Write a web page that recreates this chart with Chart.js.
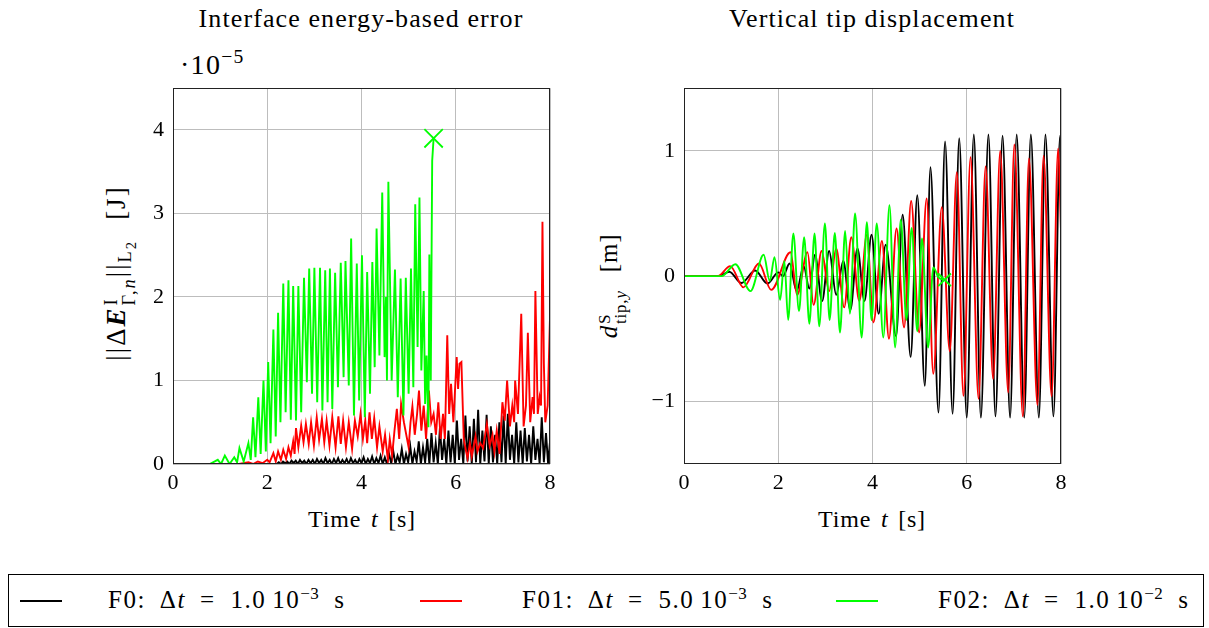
<!DOCTYPE html>
<html><head><meta charset="utf-8">
<script src="https://cdn.jsdelivr.net/npm/chart.js@4"></script>
<style>
body{margin:0;background:#fff;width:1209px;height:628px;overflow:hidden;position:relative;font-family:'Liberation Serif',serif;color:#000;}
.abs{position:absolute;white-space:nowrap;}
canvas{position:absolute;}
.ss{display:inline-flex;flex-direction:column;font-size:0.68em;line-height:0.95;vertical-align:0.42em;margin-left:1px;}
.sw{position:absolute;height:0;border-top:2px solid;}
.m{display:inline-block;}
.lg{font-size:25px;letter-spacing:1.5px;top:584px;}
.lg sup{font-size:0.68em;letter-spacing:0.5px;}
</style></head><body>
<div class="abs" style="left:361px;top:19px;transform:translate(-50%,-50%);font-size:26px;letter-spacing:1.1px">Interface energy-based error</div>
<div class="abs" style="left:872px;top:19px;transform:translate(-50%,-50%);font-size:26px;letter-spacing:1.1px">Vertical tip displacement</div>
<div class="abs" style="left:180px;top:47px;font-size:28px;letter-spacing:1.3px">·10<sup style="font-size:0.7em;position:relative;top:-0.05em">−5</sup></div>
<div class="abs" style="left:362px;top:519px;transform:translate(-50%,-50%);font-size:24px;letter-spacing:0.8px;word-spacing:3px">Time <i>t</i> [s]</div>
<div class="abs" style="left:872px;top:519px;transform:translate(-50%,-50%);font-size:24px;letter-spacing:0.8px;word-spacing:3px">Time <i>t</i> [s]</div>
<div class="abs" style="left:121px;top:273px;transform:translate(-50%,-50%) rotate(-90deg);font-size:27px;letter-spacing:2px">||Δ<b><i>E</i></b><span class="ss"><span>I</span><span>Γ,<i>n</i></span></span>||<sub style="font-size:0.68em">L<sub style="font-size:0.8em">2</sub></sub><span class="m" style="width:20px"></span>[J]</div>
<div class="abs" style="left:612px;top:286px;transform:translate(-50%,-50%) rotate(-90deg);font-size:25px;letter-spacing:0.8px"><i>d</i><span class="ss"><span>S</span><span>tip,<i>y</i></span></span><span class="m" style="width:18px"></span>[m]</div>

<div class="abs" style="left:8px;top:574px;width:1196px;height:53px;border:1px solid #000;box-sizing:border-box;"></div>
<div class="sw" style="left:20px;top:600px;width:42px;border-color:#000"></div>
<div class="abs lg" style="left:108px">F0:<span class="m" style="width:14px"></span>Δ<i>t</i><span class="m" style="width:14px"></span>=<span class="m" style="width:15px"></span>1.0<span class="m" style="width:6px"></span>10<sup>−3</sup><span class="m" style="width:15px"></span>s</div>
<div class="sw" style="left:420px;top:600px;width:42px;border-color:#ff0000"></div>
<div class="abs lg" style="left:522px">F01:<span class="m" style="width:14px"></span>Δ<i>t</i><span class="m" style="width:14px"></span>=<span class="m" style="width:15px"></span>5.0<span class="m" style="width:6px"></span>10<sup>−3</sup><span class="m" style="width:15px"></span>s</div>
<div class="sw" style="left:836px;top:600px;width:42px;border-color:#00ff00"></div>
<div class="abs lg" style="left:938px">F02:<span class="m" style="width:14px"></span>Δ<i>t</i><span class="m" style="width:14px"></span>=<span class="m" style="width:15px"></span>1.0<span class="m" style="width:6px"></span>10<sup>−2</sup><span class="m" style="width:15px"></span>s</div>

<canvas id="c1" width="480" height="454" style="left:100px;top:66px"></canvas>
<canvas id="c2" width="490" height="454" style="left:600px;top:66px"></canvas>
<script>
// ---------- tick labels ----------
const xTicks = [0, 2, 4, 6, 8];
const errYTicks = [0, 1, 2, 3, 4];
const dispYTicks = [-1, 0, 1];

// ---------- Interface energy-based error (×1e-5 J) ----------
// F02 (green)
const errF02T = [0,0.78,0.95,1.02,1.10,1.20,1.30,1.36,1.41,1.50,1.60,1.65,1.70,1.75,1.81,1.86,1.92,1.97,2.02,2.07,2.13,2.18,2.23,2.28,2.34,2.39,2.45,2.50,2.55,2.61,2.66,2.72,2.78,2.84,2.89,2.95,3.00,3.06,3.12,3.17,3.23,3.28,3.33,3.38,3.44,3.50,3.56,3.62,3.66,3.73,3.78,3.84,3.90,3.95,4.01,4.07,4.12,4.18,4.23,4.28,4.32,4.38,4.44,4.49,4.52,4.54,4.57,4.64,4.71,4.77,4.83,4.89,4.94,5.00,5.05,5.10,5.14,5.19,5.23,5.27,5.32,5.35,5.38,5.42,5.44,5.47,5.50,5.53];
const errF02V = [0,0,0.05,0,0.10,0,0.08,0.02,0.19,0.03,0.25,0.05,0.56,0.08,0.80,0.12,1.00,0.15,1.22,0.25,1.61,0.33,1.81,0.50,2.16,0.62,2.20,0.53,2.13,0.52,2.13,0.62,2.23,0.98,2.34,0.84,2.35,0.74,2.35,0.64,2.32,0.74,2.34,0.66,2.29,0.92,2.41,1.04,2.43,0.94,2.70,0.58,2.40,0.76,2.50,0.56,2.30,0.84,2.42,1.16,2.82,1.30,3.25,1.28,2.00,1.00,3.38,1.00,2.33,0.80,2.22,0.58,2.23,0.84,2.34,0.92,3.11,1.40,3.19,1.12,2.07,0.72,1.30,0.44,2.51,1.00,3.63,3.90];
// F01 (red)
const errF01T = [0,1.40,1.60,1.70,1.80,1.90,2.00,2.05,2.13,2.18,2.23,2.29,2.34,2.40,2.45,2.50,2.55,2.58,2.61,2.66,2.72,2.77,2.82,2.88,2.93,2.99,3.05,3.10,3.16,3.21,3.26,3.32,3.38,3.45,3.51,3.56,3.61,3.67,3.73,3.80,3.86,3.92,3.98,4.03,4.08,4.12,4.17,4.22,4.27,4.33,4.38,4.45,4.50,4.56,4.60,4.65,4.70,4.75,4.80,4.84,4.90,4.95,5.00,5.04,5.08,5.13,5.18,5.22,5.27,5.32,5.37,5.43,5.48,5.53,5.58,5.63,5.68,5.73,5.77,5.82,5.86,5.90,5.95,6.02,6.05,6.08,6.12,6.17,6.22,6.25,6.30,6.34,6.42,6.46,6.52,6.58,6.66,6.72,6.78,6.82,6.87,6.93,6.99,7.04,7.09,7.15,7.20,7.24,7.26,7.32,7.39,7.44,7.49,7.53,7.58,7.63,7.66,7.69,7.74,7.78,7.81,7.84,7.87,7.90,7.95,8.00];
const errF01V = [0,0,0.02,0,0.03,0.01,0.05,0.02,0.13,0.03,0.15,0.05,0.17,0.06,0.20,0.10,0.27,0.12,0.43,0.20,0.46,0.26,0.48,0.24,0.50,0.22,0.56,0.29,0.54,0.26,0.52,0.22,0.56,0.20,0.57,0.24,0.52,0.20,0.50,0.18,0.52,0.33,0.60,0.30,0.52,0.25,0.62,0.30,0.55,0.20,0.45,0.15,0.35,0.05,0.30,0.10,0.40,0.66,0.30,0.72,0.50,0.35,0.20,0.50,0.69,0.35,0.60,0.88,0.40,0.70,0.30,0.88,0.50,0.60,0.35,0.74,0.30,0.60,0.30,1.54,0.60,0.96,0.50,1.28,0.90,1.20,1.22,0.30,0.15,0.07,0.25,0.09,0.33,0.15,0.25,0.19,0.48,0.22,0.35,0.15,0.40,0.12,0.74,0.52,1.00,0.45,0.70,0.50,1.00,0.60,1.80,0.45,0.70,1.57,0.50,0.80,0.60,2.07,0.60,0.80,0.70,2.90,1.20,0.50,0.70,1.75];
// F0 (black), sampled every 0.045 s from t = 2.2 s
const errF0Start = 2.2, errF0Step = 0.045;
const errF0V = [
 0.00,0.02,0.00,0.03,0.01,0.03,0.00,0.04,0.01,0.04,0.00,0.05,0.01,0.04,0.00,0.05,0.01,0.05,
 0.00,0.06,0.01,0.05,0.00,0.07,0.01,0.05,0.00,0.06,0.01,0.07,0.00,0.05,0.01,0.06,0.00,0.07,0.01,0.05,0.00,0.06,
 0.01,0.08,0.00,0.06,0.01,0.09,0.00,0.07,0.01,0.10,0.00,0.08,0.00,
 0.12,0.01,0.15,0.00,0.10,0.02,0.18,0.00,0.12,
 0.02,0.21,0.00,0.15,0.03,0.27,0.00,0.20,0.02,0.30,0.00,
 0.37,0.02,0.25,0.00,0.44,0.05,0.30,0.00,0.40,0.02,0.35,
 0.00,0.52,0.05,0.30,0.00,0.58,0.03,0.45,0.00,0.54,0.02,
 0.65,0.00,0.40,0.03,0.59,0.00,0.45,0.02,0.35,0.00,0.50,
 0.02,0.58,0.00,0.60,0.05,0.35,0.00,0.50,0.02,0.40,0.00,
 0.43,0.03,0.35,0.00,0.45,0.05,0.30,0.00,0.56,0.02,0.37,
 0.00,0.30];

// ---------- Vertical tip displacement (m) ----------
const dispF0T = [0,0.75,0.96,1.22,1.51,1.77,2.00,2.10,2.24,2.39,2.54,2.66,2.78,2.93,3.08,3.23,3.38,3.53,3.68,3.83,3.98,4.13,4.28,4.50,4.64,4.81,4.95,5.11,5.23,5.40,5.54,5.70,5.84,6.00,6.15,6.30,6.46,6.61,6.76,6.92,7.06,7.22,7.36,7.53,7.67,7.84,7.98,8.00];
const dispF0V = [0,0,0.035,-0.055,0.045,-0.06,0.03,0.00,0.10,-0.12,0.08,-0.10,0.17,-0.20,0.20,-0.15,0.12,-0.27,0.22,-0.20,0.33,-0.30,0.25,-0.48,0.49,-0.645,0.645,-0.876,0.87,-1.09,1.075,-1.10,1.10,-1.13,1.13,-1.13,1.13,-1.12,1.12,-1.13,1.13,-1.13,1.13,-1.13,1.13,-1.12,1.12,1.10];
const dispF01T = [0,0.72,0.98,1.26,1.59,1.85,2.26,2.40,2.62,2.75,2.92,3.08,3.23,3.40,3.55,3.72,3.88,4.02,4.20,4.35,4.51,4.67,4.82,4.99,5.15,5.29,5.47,5.64,5.79,5.93,6.08,6.25,6.40,6.56,6.71,6.88,7.01,7.19,7.32,7.50,7.63,7.80,7.94,8.00];
const dispF01V = [0,0,0.08,-0.09,0.10,-0.11,0.19,-0.15,0.19,-0.23,0.20,-0.12,0.22,-0.25,0.31,-0.20,0.33,-0.37,0.28,-0.50,0.38,-0.41,0.60,-0.45,0.62,-0.78,0.55,-0.60,0.83,-0.956,0.95,-0.98,0.876,-0.82,1.00,-0.93,1.05,-1.12,0.94,-1.03,0.96,-0.96,1.02,0.36];
const dispF02T = [0,0.80,1.09,1.41,1.69,1.82,1.92,2.04,2.13,2.21,2.32,2.44,2.55,2.66,2.77,2.87,2.99,3.09,3.20,3.31,3.42,3.52,3.63,3.77,3.88,3.98,4.09,4.23,4.36,4.48,4.60,4.72,4.83,4.95,5.05,5.18,5.29,5.40,5.50];
const dispF02V = [0,0,0.095,-0.12,0.17,-0.04,0.15,-0.19,0.12,-0.35,0.34,-0.28,0.31,-0.38,0.34,-0.40,0.42,-0.35,0.345,-0.45,0.36,-0.30,0.50,-0.49,0.43,-0.35,0.42,-0.49,0.566,-0.57,0.45,-0.35,0.385,-0.44,0.30,-0.57,0.07,-0.01,-0.03];

// end-of-run markers of F02
const stopT = [5.53];
const stopErrV = [3.9];
const stopDispV = [-0.03];

const BLACK = '#000000', RED = '#ff0000', GREEN = '#00ff00';

function pts(t, v) { return v.map((y, i) => ({ x: t[i], y })); }
function ptsStep(t0, dt, v) { return v.map((y, i) => ({ x: t0 + dt * i, y })); }

const frame = {
  id: 'frame',
  afterDatasetsDraw(c) {
    const a = c.chartArea, ctx = c.ctx;
    ctx.save();
    ctx.strokeStyle = '#222'; ctx.lineWidth = 1;
    ctx.strokeRect(Math.round(a.left) + 0.5, Math.round(a.top) + 0.5, Math.round(a.right - a.left) - 1, Math.round(a.bottom - a.top) - 1);
    ctx.restore();
  }
};

function lineDs(data, color, smooth) {
  return { data, borderColor: color, backgroundColor: color, borderWidth: 1.9, pointRadius: 0,
    tension: 0, cubicInterpolationMode: smooth ? 'monotone' : 'default', fill: false };
}
function markerDs(data, r) {
  return { data, showLine: false, pointStyle: 'crossRot', pointRadius: r, borderColor: GREEN,
    backgroundColor: GREEN, pointBorderWidth: 1.8, borderWidth: 1.8 };
}

function makeChart(id, datasets, yMin, yMax, yTicks, yWidth, padRight) {
  const tickFont = { family: 'Liberation Serif', size: 22 };
  return new Chart(document.getElementById(id), {
    type: 'line',
    data: { datasets },
    options: {
      responsive: false, animation: false, devicePixelRatio: 1,
      layout: { padding: { top: 7, right: padRight, left: 0, bottom: 0 } },
      plugins: { legend: { display: false }, tooltip: { enabled: false } },
      scales: {
        x: {
          type: 'linear', min: 0, max: 8,
          afterBuildTicks: s => { s.ticks = xTicks.map(v => ({ value: v })); },
          afterFit: s => { s.height = 56; },
          grid: { color: '#bdbdbd', lineWidth: 1, drawTicks: false },
          border: { display: false },
          ticks: { font: tickFont, color: '#000', padding: 6, maxRotation: 0, callback: v => String(v) }
        },
        y: {
          type: 'linear', min: yMin, max: yMax,
          afterBuildTicks: s => { s.ticks = yTicks.map(v => ({ value: v })); },
          afterFit: s => { s.width = yWidth; },
          grid: { color: '#bdbdbd', lineWidth: 1, drawTicks: false },
          border: { display: false },
          ticks: { font: tickFont, color: '#000', padding: 9, callback: v => String(v).replace('-', '\u2212') }
        }
      }
    },
    plugins: [frame]
  });
}

makeChart('c1', [
  markerDs(pts(stopT, stopErrV), 13),
  lineDs(pts(errF02T, errF02V), GREEN, false),
  lineDs(pts(errF01T, errF01V), RED, false),
  lineDs(ptsStep(errF0Start, errF0Step, errF0V), BLACK, false)
], 0, 4.5, errYTicks, 73, 30);

makeChart('c2', [
  markerDs(pts(stopT, stopDispV), 9),
  lineDs(pts(dispF02T, dispF02V), GREEN, true),
  lineDs(pts(dispF01T, dispF01V), RED, true),
  lineDs(pts(dispF0T, dispF0V), BLACK, true)
], -1.5, 1.5, dispYTicks, 84, 29);
</script>
</body></html>
